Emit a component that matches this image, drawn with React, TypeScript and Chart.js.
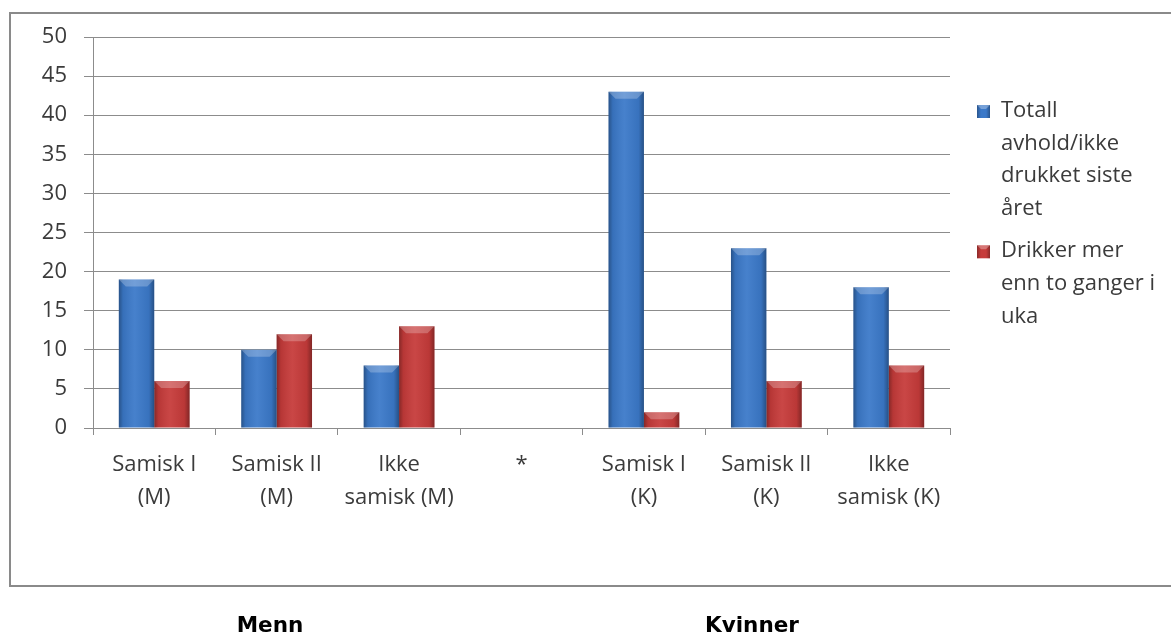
import React, { useEffect, useRef } from 'react';
import { Chart, registerables } from 'chart.js';

Chart.register(...registerables);

const categories: (string | string[])[] = [
  ['Samisk I', '(M)'],
  ['Samisk II', '(M)'],
  ['Ikke', 'samisk (M)'],
  '*',
  ['Samisk I', '(K)'],
  ['Samisk II', '(K)'],
  ['Ikke', 'samisk (K)'],
];
const totallAvhold = [19, 10, 8, null, 43, 23, 18];
const drikkerMer = [6, 12, 13, null, 2, 6, 8];
const seriesLines = [
  ['Totall', 'avhold/ikke', 'drukket siste', 'året'],
  ['Drikker mer', 'enn to ganger i', 'uka'],
];
const seriesColors = ['#3b79c9', '#c63b3a'];
const groupLabels = ['Menn', 'Kvinner'];
const yMax = 50;
const yStep = 5;

const GRID = '#8c8c8c';
const TEXT = '#3b3b3b';
const FONT = '"Open Sans", "DejaVu Sans", sans-serif';

const framePlugin = {
  id: 'frame',
  beforeDraw(chart: any) {
    const ctx = chart.ctx;
    ctx.save();
    ctx.fillStyle = '#ffffff';
    ctx.fillRect(0, 0, chart.width, chart.height);
    ctx.strokeStyle = '#8a8a8a';
    ctx.lineWidth = 2;
    ctx.strokeRect(10, 13, chart.width + 10, 573);
    ctx.restore();
  },
};

const bevelPlugin = {
  id: 'bevel',
  afterDatasetsDraw(chart: any) {
    const ctx = chart.ctx;
    chart.data.datasets.forEach((ds: any, di: number) => {
      const meta = chart.getDatasetMeta(di);
      meta.data.forEach((el: any, i: number) => {
        if (ds.data[i] == null) return;
        const { x, y, base, width } = el.getProps(['x', 'y', 'base', 'width'], true);
        const l = x - width / 2;
        const r = x + width / 2;
        const t = Math.min(y, base);
        const b = Math.max(y, base);
        const h = b - t;
        if (h <= 0) return;
        ctx.save();
        const g = ctx.createLinearGradient(l, 0, r, 0);
        g.addColorStop(0, 'rgba(0,0,0,0.32)');
        g.addColorStop(0.12, 'rgba(0,0,0,0.08)');
        g.addColorStop(0.45, 'rgba(255,255,255,0.06)');
        g.addColorStop(0.85, 'rgba(0,0,0,0.06)');
        g.addColorStop(1, 'rgba(0,0,0,0.34)');
        ctx.fillStyle = g;
        ctx.fillRect(l, t, width, h);
        const bv = Math.min(7, h / 2, width / 2);
        ctx.beginPath();
        ctx.moveTo(l, t);
        ctx.lineTo(r, t);
        ctx.lineTo(r - bv, t + bv);
        ctx.lineTo(l + bv, t + bv);
        ctx.closePath();
        ctx.fillStyle = 'rgba(255,255,255,0.24)';
        ctx.fill();
        ctx.restore();
      });
    });
  },
};

const legendPlugin = {
  id: 'customLegend',
  afterDraw(chart: any) {
    const ctx = chart.ctx;
    ctx.save();
    ctx.font = `22px ${FONT}`;
    ctx.textBaseline = 'alphabetic';
    ctx.textAlign = 'left';
    let baseline = 117;
    const lineH = 32.7;
    chart.data.datasets.forEach((ds: any) => {
      const lines: string[] = ds.legendLines;
      const mx = 977;
      const my = baseline - 12;
      const ms = 13;
      ctx.fillStyle = ds.backgroundColor;
      ctx.fillRect(mx, my, ms, ms);
      const g = ctx.createLinearGradient(mx, 0, mx + ms, 0);
      g.addColorStop(0, 'rgba(0,0,0,0.3)');
      g.addColorStop(0.3, 'rgba(0,0,0,0)');
      g.addColorStop(0.7, 'rgba(0,0,0,0)');
      g.addColorStop(1, 'rgba(0,0,0,0.3)');
      ctx.fillStyle = g;
      ctx.fillRect(mx, my, ms, ms);
      ctx.beginPath();
      ctx.moveTo(mx, my);
      ctx.lineTo(mx + ms, my);
      ctx.lineTo(mx + ms - 4, my + 4);
      ctx.lineTo(mx + 4, my + 4);
      ctx.closePath();
      ctx.fillStyle = 'rgba(255,255,255,0.3)';
      ctx.fill();
      ctx.fillStyle = TEXT;
      lines.forEach((ln, k) => {
        ctx.fillText(ln, 1001, baseline + k * lineH);
      });
      baseline += lines.length * lineH + 9.5;
    });
    // group labels
    ctx.font = `bold 21.5px "DejaVu Sans", sans-serif`;
    ctx.fillStyle = '#000000';
    ctx.textAlign = 'center';
    ctx.fillText(groupLabels[0], 270, 632);
    ctx.fillText(groupLabels[1], 752, 632);
    ctx.restore();
  },
};

export default function App() {
  const ref = useRef<HTMLCanvasElement | null>(null);

  useEffect(() => {
    if (!ref.current) return;
    const chart = new Chart(ref.current, {
      type: 'bar',
      data: {
        labels: categories,
        datasets: [
          {
            label: seriesLines[0].join(' '),
            data: totallAvhold,
            backgroundColor: seriesColors[0],
            borderWidth: 0,
            categoryPercentage: 0.578,
            barPercentage: 1,
            legendLines: seriesLines[0],
          } as any,
          {
            label: seriesLines[1].join(' '),
            data: drikkerMer,
            backgroundColor: seriesColors[1],
            borderWidth: 0,
            categoryPercentage: 0.578,
            barPercentage: 1,
            legendLines: seriesLines[1],
          } as any,
        ],
      },
      options: {
        animation: false,
        responsive: false,
        devicePixelRatio: 1,
        layout: { padding: { left: 0, right: 221, top: 37, bottom: 0 } },
        plugins: {
          legend: { display: false },
          tooltip: { enabled: false },
          title: { display: false },
        },
        scales: {
          x: {
            offset: true,
            grid: {
              display: true,
              drawOnChartArea: false,
              drawTicks: true,
              tickLength: 7,
              color: GRID,
              offset: true,
            },
            border: { display: true, color: GRID, width: 1 },
            ticks: {
              color: TEXT,
              font: { family: FONT, size: 22, lineHeight: 1.5 },
              padding: 13,
              maxRotation: 0,
              autoSkip: false,
            },
            afterFit: (s: any) => {
              s.height = 206;
            },
          },
          y: {
            min: 0,
            max: yMax,
            ticks: {
              stepSize: yStep,
              color: TEXT,
              font: { family: FONT, size: 22 },
              padding: 17,
            },
            grid: {
              color: GRID,
              tickLength: 9,
              drawTicks: true,
            },
            border: { display: true, color: GRID, width: 1 },
            afterFit: (s: any) => {
              s.width = 93;
            },
          },
        },
      },
      plugins: [framePlugin, bevelPlugin, legendPlugin],
    });
    return () => chart.destroy();
  }, []);

  return (
    <div style={{ position: 'fixed', left: 0, top: 0, width: 1171, height: 634, background: '#fff' }}>
      <canvas ref={ref} width={1171} height={634} style={{ display: 'block', width: 1171, height: 634 }} />
    </div>
  );
}
